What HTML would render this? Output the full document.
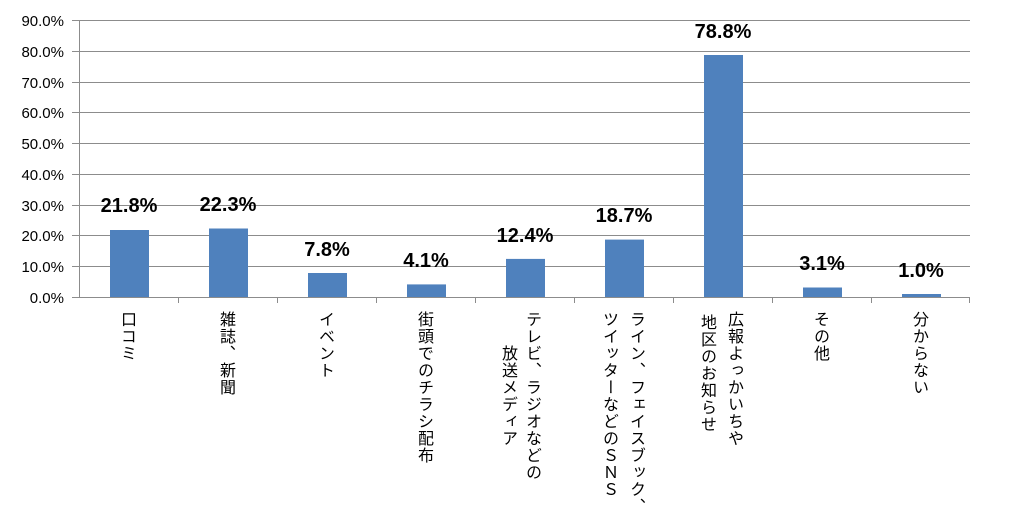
<!DOCTYPE html>
<html><head><meta charset="utf-8"><style>
body{margin:0;width:1024px;height:522px;background:#fff;position:relative;overflow:hidden;font-family:"Liberation Sans","Noto Sans CJK JP",sans-serif}
.v{position:absolute;top:311px;writing-mode:vertical-rl;font-size:16px;line-height:16px;letter-spacing:1px;color:#000;font-family:"Noto Sans CJK JP",sans-serif;white-space:nowrap;transform:translateX(-8px)}
</style></head><body>
<svg width="1024" height="522" style="position:absolute;left:0;top:0">
<g stroke="#8c8c8c" stroke-width="1">
<line x1="72" y1="20.5" x2="970" y2="20.5"/>
<line x1="72" y1="51.5" x2="970" y2="51.5"/>
<line x1="72" y1="82.5" x2="970" y2="82.5"/>
<line x1="72" y1="112.5" x2="970" y2="112.5"/>
<line x1="72" y1="143.5" x2="970" y2="143.5"/>
<line x1="72" y1="174.5" x2="970" y2="174.5"/>
<line x1="72" y1="205.5" x2="970" y2="205.5"/>
<line x1="72" y1="235.5" x2="970" y2="235.5"/>
<line x1="72" y1="266.5" x2="970" y2="266.5"/>
<line x1="72" y1="297.5" x2="970" y2="297.5"/>
<line x1="79.5" y1="20" x2="79.5" y2="297"/>
<line x1="178.5" y1="297" x2="178.5" y2="303"/>
<line x1="277.5" y1="297" x2="277.5" y2="303"/>
<line x1="376.5" y1="297" x2="376.5" y2="303"/>
<line x1="475.5" y1="297" x2="475.5" y2="303"/>
<line x1="574.5" y1="297" x2="574.5" y2="303"/>
<line x1="673.5" y1="297" x2="673.5" y2="303"/>
<line x1="772.5" y1="297" x2="772.5" y2="303"/>
<line x1="871.5" y1="297" x2="871.5" y2="303"/>
<line x1="969.5" y1="297" x2="969.5" y2="303"/>
</g>
<g fill="#4f81bd">
<rect x="110" y="230" width="39" height="67"/>
<rect x="209" y="228.5" width="39" height="68.5"/>
<rect x="308" y="273" width="39" height="24"/>
<rect x="407" y="284.4" width="39" height="12.6"/>
<rect x="506" y="258.9" width="39" height="38.1"/>
<rect x="605" y="239.6" width="39" height="57.4"/>
<rect x="704" y="55" width="39" height="242"/>
<rect x="803" y="287.5" width="39" height="9.5"/>
<rect x="902" y="294" width="39" height="3"/>
</g>
<g font-family="Liberation Sans, sans-serif" font-size="15" fill="#000" text-anchor="end">
<text x="64" y="26">90.0%</text><text x="64" y="57">80.0%</text><text x="64" y="88">70.0%</text>
<text x="64" y="118">60.0%</text><text x="64" y="149">50.0%</text><text x="64" y="180">40.0%</text>
<text x="64" y="211">30.0%</text><text x="64" y="241">20.0%</text><text x="64" y="272">10.0%</text>
<text x="64" y="303">0.0%</text>
</g>
<g font-family="Liberation Sans, sans-serif" font-size="20" font-weight="bold" fill="#000" text-anchor="middle">
<text x="129" y="212">21.8%</text><text x="228" y="211">22.3%</text><text x="327" y="256">7.8%</text>
<text x="426" y="267">4.1%</text><text x="525" y="242">12.4%</text><text x="624" y="222">18.7%</text>
<text x="723" y="38">78.8%</text><text x="822" y="270">3.1%</text><text x="921" y="277">1.0%</text>
</g>
</svg>
<div class="v" style="left:129px">口コミ</div>
<div class="v" style="left:228px">雑誌、新聞</div>
<div class="v" style="left:327px">イベント</div>
<div class="v" style="left:426px">街頭でのチラシ配布</div>
<div class="v" style="left:534px">テレビ、ラジオなどの</div>
<div class="v" style="left:510px;top:345px">放送メディア</div>
<div class="v" style="left:638px">ライン、フェイスブック、</div>
<div class="v" style="left:611px">ツイッターなどのＳＮＳ</div>
<div class="v" style="left:736px">広報よっかいちや</div>
<div class="v" style="left:709px;top:314px">地区のお知らせ</div>
<div class="v" style="left:822px">その他</div>
<div class="v" style="left:921px">分からない</div>
</body></html>
